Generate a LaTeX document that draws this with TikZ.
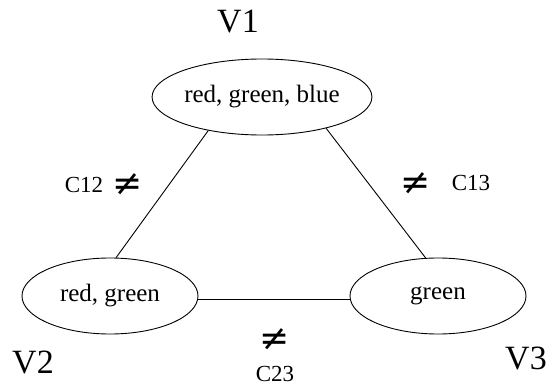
\documentclass[tikz,border=0pt]{standalone}
\usepackage{fontspec}
\setmainfont{Liberation Serif}
\newfontfamily\symfont{DejaVu Sans}
\usetikzlibrary{shapes.geometric}

\begin{document}
\begin{tikzpicture}[
  x=1pt, y=-1pt,
  var/.style   = {draw, ellipse, line width=0.9pt, inner sep=0pt,
                  minimum width=176pt, minimum height=76pt,
                  font=\fontsize{25}{28}\selectfont},
  vname/.style = {font=\fontsize{34}{38}\selectfont},
  cname/.style = {font=\fontsize{23}{26}\selectfont},
  neq/.style   = {font=\symfont\fontsize{36}{38}\selectfont, inner sep=0pt},
  edge/.style  = {line width=0.9pt},
]
\useasboundingbox (0,0) rectangle (558,388);

% ---- variables -------------------------------------------------------------
\node[var] (v1) at (262,97)  {red, green, blue};
\node[var] (v2) at (110,296) {red, green};
\node[var] (v3) at (438,296) {green};

\node[vname] (v1lab) at (238,22)  {V1};
\node[vname] (v2lab) at (33,362)  {V2};
\node[vname] (v3lab) at (526,358) {V3};

% ---- constraints -----------------------------------------------------------
\draw[edge] (v1.212) -- (v2.81);
\draw[edge] (v1.334) -- (v3.108);
\draw[edge] (v2.-2)  -- (v3.182);

\node[cname] (c12)  at (84,185)  {C12};
\node[neq]   (n12)  at (128,185) {≠};
\node[neq]   (n13)  at (416,184) {≠};
\node[cname] (c13)  at (471,183) {C13};
\node[neq]   (n23)  at (275,340) {≠};
\node[cname] (c23)  at (275,374) {C23};

\end{tikzpicture}
\end{document}
